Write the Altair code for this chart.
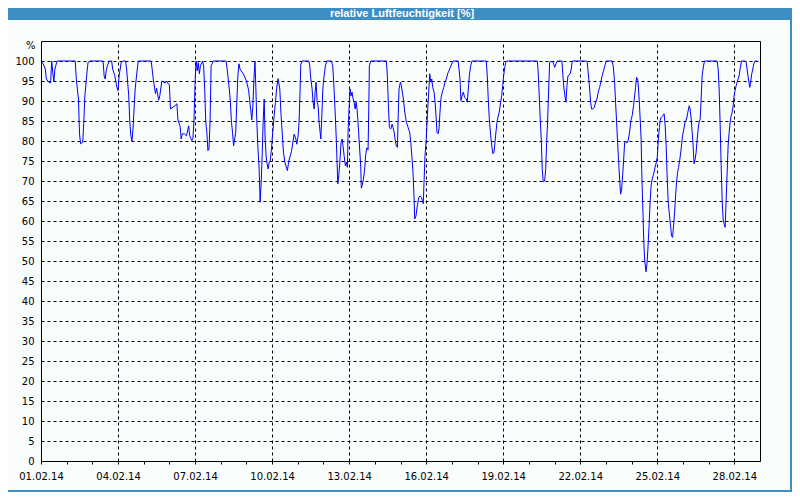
import altair as alt
import pandas as pd

TITLE = "relative Luftfeuchtigkeit [%]"
START = "2014-02-01T00:00:00"

# hours since 01.02.2014 00:00 and relative humidity in %
hours = [
    0, 2, 4, 5, 7, 9, 10, 11, 12, 13, 15, 32, 33, 35, 36, 37, 39, 40, 41, 43, 44, 46,
    58, 59, 60, 61, 62, 64, 66, 67, 69, 70, 71, 72, 73, 74, 75, 77, 79, 80, 82, 83, 84,
    85, 86, 87, 88, 90, 91, 103, 105, 107, 108, 110, 111, 113, 116, 117, 120, 121, 125,
    127, 128, 130, 131, 132, 134, 136, 138, 139, 141, 142, 143, 144, 145, 146, 147, 148,
    149, 151, 152, 153, 154, 155, 156, 157, 158, 159, 161, 173, 174, 176, 177, 178, 179,
    180, 182, 183, 184, 185, 186, 188, 190, 192, 194, 195, 196, 197, 198, 199, 200,
    200.8, 201.7, 202.7, 203.9, 204.8, 205.8, 206.7, 207.6, 208.6, 209.5, 210.4, 211.3,
    212.3, 213.2, 214.2, 215.4, 216.3, 217.9, 219.1, 220.4, 221.6, 223.2, 224.2, 225.4,
    226.6, 227.9, 230.3, 231.6, 234.1, 235.4, 236.6, 238.2, 239.1, 240.3, 241.2, 242.2,
    242.8, 244, 250.3, 251.2, 252.2, 253.4, 254.3, 255.3, 256.2, 257.1, 258.1, 259,
    259.9, 260.6, 261.5, 262.5, 263.4, 264.6, 265.8, 267.1, 271.4, 272.7, 273.9, 275.2,
    276.1, 276.7, 277.4, 278.3, 279.3, 280.5, 281.4, 282.3, 283.3, 284.5, 285.4, 286.4,
    287, 287.9, 288.9, 289.8, 290.7, 291.7, 292.6, 293.6, 294.5, 295.4, 296.3, 297.6,
    298.9, 299.4, 300.4, 301.3, 302.6, 303.5, 304.5, 305.7, 306.4, 306.9, 308.2, 322.8,
    323.7, 324.7, 325.6, 326.9, 328.1, 329, 330, 331.2, 332.1, 333.1, 333.7, 334.6,
    335.9, 336.8, 337.7, 338.7, 340, 341.5, 343.1, 344.6, 345.6, 346.8, 347.7, 348.7,
    349.3, 350.5, 351.7, 353.1, 354.3, 355.5, 356.4, 357.3, 358, 358.9, 359.9, 360.8,
    361.8, 362.7, 363.3, 364.3, 365.2, 366.1, 367.4, 368.3, 369.2, 370.1, 371.1, 372,
    372.9, 373.9, 375.1, 376.4, 377.6, 378.8, 380.1, 381.3, 382.6, 383.9, 385.1, 389.8,
    390.7, 391.6, 392.5, 393.5, 394.7, 396, 397.5, 398.4, 399.4, 400.3, 401.6, 402.8,
    416.2, 417.1, 418, 419, 420.3, 421.5, 422.4, 423.4, 424.3, 425.2, 426.2, 427.1,
    428.3, 429.6, 430.6, 431.5, 432.4, 433.4, 434.3, 435.5, 463.8, 464.5, 465.4, 466.4,
    467.6, 468.5, 469.4, 470.7, 471.7, 472.6, 473.5, 474.5, 475.4, 476.3, 477.3, 478.2,
    479.1, 480.1, 481.3, 482.5, 486.9, 487.8, 488.8, 489.7, 490.6, 491.6, 492.5, 494.6,
    495.6, 496.5, 509.6, 510.5, 511.4, 512.8, 513.7, 514.6, 515.8, 517.1, 518.4, 519.6,
    520.8, 522.1, 523.4, 524.5, 525.8, 527, 528.3, 533.6, 534.8, 536.1, 537, 538, 538.9,
    539.9, 540.8, 541.7, 542.7, 543.6, 544.5, 545.5, 546.4, 547.6, 548.8, 550.1, 551.3,
    552.5, 553.8, 554.8, 555.7, 556.6, 557.6, 558.5, 559.4, 560.9, 561.5, 562.1, 562.7,
    563.4, 564.3, 565.5, 566.5, 567.4, 568.3, 569.3, 570.2, 571.2, 572.1, 573, 573.9,
    575.2, 576.1, 577, 578, 578.7, 579.6, 581.2, 582.4, 583.4, 584.3, 585.2, 586.2,
    587.1, 588.4, 589.3, 590.3, 591.2, 592.2, 593.1, 594, 595, 595.9, 597.1, 598.3,
    599.6, 600.8, 602, 603.4, 604.6, 605.8, 606.7, 607.7, 608.6, 609.5, 610.4, 611.4,
    612.3, 613.3, 614.2, 615.1, 616.1, 617, 617.9, 619.2, 620.2, 631.9, 632.9, 633.8,
    634.7, 635.7, 636.6, 637.5, 638.5, 639.4, 640.4, 641.3, 642.2, 643.2, 644.1, 645,
    646, 646.9, 647.8, 648.7, 649.7, 650.6, 651.5, 652.5, 653.4, 654.7, 658.1, 659,
    659.9, 661.2, 662.5, 663.4, 664.3, 665.3, 666.2, 667.4, 669.3,
]
rh = [
    100, 99.3, 98, 95.5, 94.8, 94.5, 100, 97.2, 94.8, 98, 100, 100, 95.5, 90.5, 81.8, 79.3,
    79.7, 84.7, 91.3, 97.2, 99.7, 100, 100, 96.3, 95.5, 97.6, 98.8, 100, 100, 98, 96.3,
    94.7, 93.4, 92.6, 96.3, 98, 99.7, 100, 100, 98, 91.3, 84.7, 81.3, 80, 83, 88, 93, 98,
    100, 100, 95.3, 91.8, 93.2, 90.2, 91.3, 95, 94.5, 95, 94, 88, 88.8, 89.3, 85.3, 83.7,
    80.5, 81.8, 81.8, 81.3, 83.8, 81.3, 80.1, 80.7, 85.3, 94.5, 100, 97.6, 99.6, 96.8,
    98.8, 100, 98.8, 93, 84.7, 82.2, 77.6, 78, 84.7, 98.8, 100, 100, 98, 93, 89.7, 84.7,
    82.2, 78.8, 82.2, 89.7, 96.3, 99.3, 98, 97.2, 96.3, 95, 92.8, 90.3, 87.8, 85.3, 88.6,
    95.3, 100,
    93.3, 85, 78.4, 73, 64.7, 69.7, 76.3, 84.7, 90.5, 80.5, 76.3, 74.3,
    73, 74.6, 75, 78, 81.3, 86.3, 89.7, 93.5, 95.6, 93, 87.2, 82.2,
    77.2, 74.7, 72.6, 75, 77.4, 79.7, 81.7, 80.5, 79.2, 81.3, 84.7, 93,
    99.2, 100, 100, 98.8, 95.5, 93, 89.7, 88, 92.2, 94.7, 89.7, 88.8,
    84.7, 83, 80.5, 86.3, 93, 96.3, 98.8, 100, 100, 98.8, 93, 85.5,
    79.7, 74.7, 69.3, 71.3, 74.7, 79.7, 80.5, 78.8, 76.3, 73.8, 74.7, 73.4,
    82.2, 88, 93, 91.3, 92.2, 90.5, 89.7, 88, 89.7, 88, 84.7, 79,
    73.3, 68.2, 69.2, 70.3, 73.3, 76.6, 78.3, 77.8, 89, 98.8, 100, 100,
    96.3, 88.8, 83.4, 83, 84.2, 83.4, 82.3, 80, 78.8, 78.4, 84.7, 93,
    94.7, 93.8, 92.2, 90.5, 87.2, 84.7, 83.4, 82.2, 79.7, 75.5, 72.2, 65.5,
    60.5, 61.3, 63.8, 65.9, 66.3, 65.9, 65.1, 64.3, 69.7, 76.3, 79.7, 84.7,
    89.7, 93.8, 96.8, 94.7, 95.5, 93.4, 92.2, 89.7, 86.3, 82.2, 81.8, 83,
    87.2, 90.9, 92.2, 93.4, 94.7, 95.5, 96.8, 97.6, 98.4, 99.3, 100, 100,
    98, 95.5, 90.1, 91.3, 92.2, 90.9, 90.5, 89.7, 93, 96.3, 98.8, 100,
    100, 96.3, 90.5, 85.5, 81.3, 78.4, 76.8, 77.2, 79.7, 82.2, 84.7, 86,
    87.2, 89.7, 91.3, 93.8, 96.3, 98.3, 99.6, 100, 100, 98, 93, 86.7,
    80, 72.9, 69.8, 70, 72.9, 79.7, 85, 93, 99.7, 100, 99.7, 100,
    99.3, 98.4, 99.3, 100, 100, 96.3, 93, 91.3, 89.7, 93.8, 96.3, 96.8,
    98, 100, 100, 99.7, 97.2, 93, 89.7, 88, 88, 88.4, 89.7, 90.5,
    92.2, 93.4, 95, 96.3, 97.6, 98.8, 100, 100, 98.8, 94.7, 89.7, 84.7, 79.7,
    74.7, 70.5, 66.7, 68, 71.3, 75, 79.7, 79.8, 79.5, 80.1, 82.2, 85.1,
    86.3, 88.8, 91.3, 93.4, 95.9, 95.5, 93, 88.8, 80.5, 72.2, 66.3, 61.3,
    54.6, 50, 47.3, 49.7, 53.8, 58.8, 64.7, 68.8, 70.5, 71.3, 72.2, 73.4,
    74.7, 76.3, 80.5, 83.4, 85.1, 85.9, 86.3, 86.8, 83.8, 78.8, 71.3, 64.7,
    62.2, 58.8, 56.3, 55.9, 58.8, 62.2, 66.3, 69.7, 72.2, 73.4, 75.5, 78,
    81.3, 83, 84.7, 85.5, 87.2, 88.8, 88, 85.5, 82.2, 78.8, 74.3, 75.5,
    77.2, 80.5, 83, 84.7, 85.5, 90.5, 96.3, 98.8, 100, 100, 98, 93,
    84.7, 73.8, 65.5, 60.5, 59.3, 58.4, 65.5, 72.2, 78.8, 82.2, 84.7, 86.3,
    87.2, 88.8, 91.3, 92.6, 93.8, 94.7, 95.5, 96.3, 98, 100, 100, 99.7,
    98, 95.5, 93.4, 95, 96.8, 98, 99.3, 100, 100,
]

y_ticks = list(range(0, 101, 5))
day_ticks = list(range(1, 29))
grid_days = list(range(1, 29, 3))

assert len(hours) == len(rh), (len(hours), len(rh))

df = pd.DataFrame({
    "Zeit": pd.Timestamp(START) + pd.to_timedelta(hours, unit="h"),
    "rF": rh,
})
df["Zeit"] = df["Zeit"].dt.strftime("%Y-%m-%dT%H:%M:%S")

FONT = "DejaVu Sans"
x_scale = alt.Scale(domain=[alt.DateTime(year=2014, month=2, date=1),
                            alt.DateTime(year=2014, month=3, date=1)])
y_scale = alt.Scale(domain=[0, 105], nice=False, zero=True)

y_axis = alt.Axis(
    values=y_ticks, grid=True, gridColor="black", gridDash=[3, 3], gridOpacity=1,
    domain=False, ticks=False, labelPadding=7, labelFont=FONT, labelFontSize=10,
    labelColor="black", title="%", titleAngle=0, titleX=-6, titleY=4.5,
    titleAlign="right", titleBaseline="middle", titleFont=FONT, titleFontSize=10,
    titleFontWeight="normal", titleColor="black")

line_layer = alt.Chart(df).mark_line(color="#0000ff", strokeWidth=1).encode(
    x=alt.X("Zeit:T", scale=x_scale, axis=alt.Axis(
        values=[alt.DateTime(year=2014, month=2, date=d) for d in day_ticks],
        labelExpr="date(datum.value) % 3 == 1 ? timeFormat(datum.value, '%d.%m.%y') : ''",
        grid=False, domain=False, ticks=True, tickSize=3, tickColor="black",
        labelPadding=7, labelFlush=False, labelOverlap=False,
        labelFont=FONT, labelFontSize=10, labelColor="black", title=None,
        orient="bottom")),
    y=alt.Y("rF:Q", scale=y_scale, axis=y_axis),
)

grid_layer = alt.Chart(df).mark_line(opacity=0).encode(
    x=alt.X("Zeit:T", scale=x_scale, axis=alt.Axis(
        values=[alt.DateTime(year=2014, month=2, date=d) for d in grid_days],
        grid=True, gridColor="black", gridDash=[3, 3], gridOpacity=1, gridWidth=1,
        labels=False, ticks=False, domain=False, title=None, orient="top")),
    y=alt.Y("rF:Q", scale=y_scale, axis=y_axis),
)

deco = pd.DataFrame({"t": [TITLE]})
BLUE = "#3c8ec5"
title_bar = alt.Chart(deco).mark_rect(color=BLUE).encode(
    x=alt.value(-33), x2=alt.value(751), y=alt.value(-33), y2=alt.value(-21))
right_border = alt.Chart(deco).mark_rect(color=BLUE).encode(
    x=alt.value(749), x2=alt.value(751), y=alt.value(-33), y2=alt.value(451))
bottom_border = alt.Chart(deco).mark_rect(color=BLUE).encode(
    x=alt.value(-33), x2=alt.value(751), y=alt.value(449), y2=alt.value(451))
title_text = alt.Chart(deco).mark_text(
    font="Liberation Sans", fontSize=11, fontWeight="bold", color="white",
    align="center", baseline="middle").encode(
    text="t:N", x=alt.value(361), y=alt.value(-27))

chart = alt.layer(
    line_layer, grid_layer, title_bar, right_border, bottom_border, title_text
).resolve_axis(x="independent").properties(
    width=719, height=420,
    padding={"left": 33, "top": 33, "right": 32, "bottom": 31},
    autosize=alt.AutoSizeParams(type="none"),
    background="#f8fcfa",
).configure_view(stroke="black", strokeWidth=1)

chart.save("out.html", embed_options={"renderer": "svg", "actions": False})
